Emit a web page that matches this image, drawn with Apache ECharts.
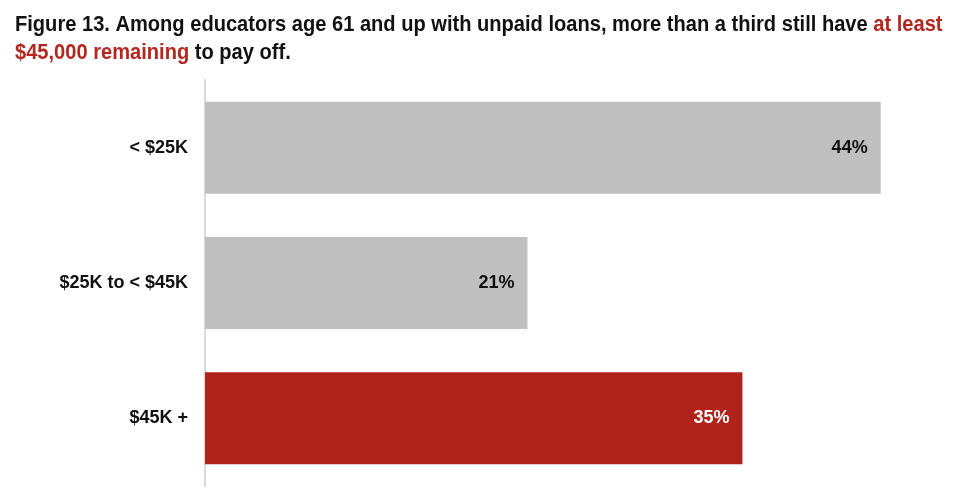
<!DOCTYPE html>
<html>
<head>
<meta charset="utf-8">
<script src="https://cdn.jsdelivr.net/npm/echarts@6/dist/echarts.min.js"></script>
<style>
html,body{margin:0;padding:0;background:#fff;}
#chart{width:960px;height:495px;}
</style>
</head>
<body>
<div id="chart"></div>
<script>
const categories = ['< $25K', '$25K to < $45K', '$45K +'];
const values = [44, 21, 35];
const barColors = ['#bfbfbf', '#bfbfbf', '#b0221a'];
const labelColors = ['#111111', '#111111', '#ffffff'];
const titleText = '{b|Figure 13. Among educators age 61 and up with unpaid loans, more than a third still have }{r|at least}\n{r|$45,000 remaining}{b| to pay off.}';

const FONT = '"Liberation Sans", Arial, sans-serif';
const chart = echarts.init(document.getElementById('chart'), null, {renderer: 'canvas'});
chart.setOption({
  backgroundColor: '#ffffff',
  animation: false,
  graphic: [{
    type: 'text',
    x: 15,
    y: 11,
    scaleX: 0.913,
    style: {
      text: titleText,
      rich: {
        b: {fontFamily: FONT, fontWeight: 'bold', fontSize: 22, fill: '#111111', lineHeight: 28},
        r: {fontFamily: FONT, fontWeight: 'bold', fontSize: 22, fill: '#b5261e', lineHeight: 28}
      }
    }
  }],
  grid: {left: 205, right: 64, top: 80, bottom: 9, containLabel: false},
  xAxis: {type: 'value', min: 0, max: 45, show: false},
  yAxis: {
    type: 'category',
    data: categories,
    inverse: true,
    axisLine: {show: true, lineStyle: {color: '#d9d9d9', width: 2}},
    axisTick: {show: false},
    axisLabel: {fontFamily: FONT, fontWeight: 'bold', fontSize: 18, color: '#111111', margin: 17}
  },
  series: [{
    type: 'bar',
    barCategoryGap: '32%',
    data: values.map((v, i) => ({
      value: v,
      itemStyle: {color: barColors[i]},
      label: {color: labelColors[i]}
    })),
    label: {
      show: true,
      position: 'insideRight',
      distance: 13,
      formatter: p => p.value + '%',
      fontFamily: FONT, fontWeight: 'bold', fontSize: 18
    }
  }]
});
</script>
</body>
</html>
